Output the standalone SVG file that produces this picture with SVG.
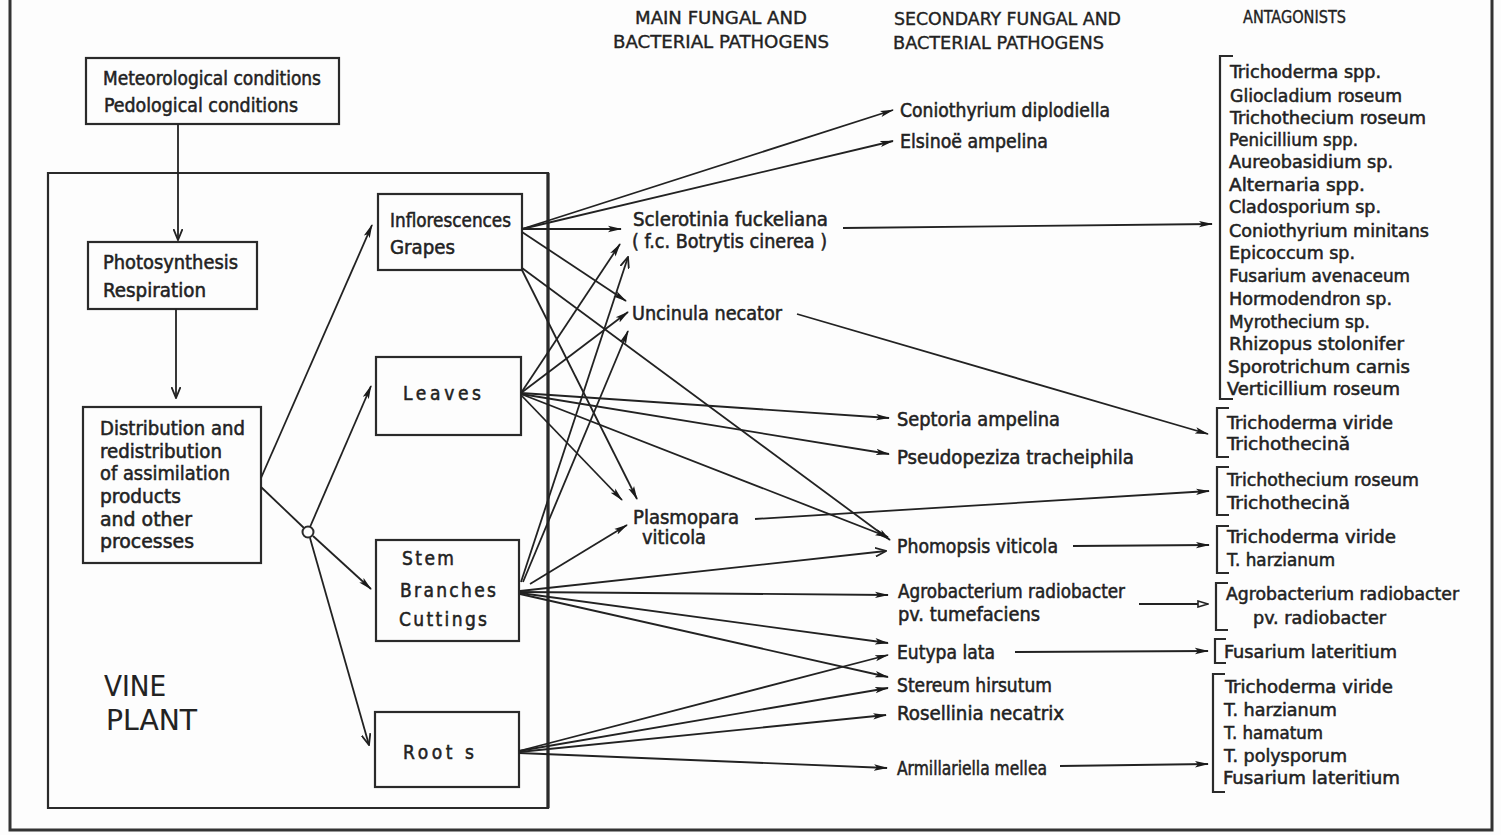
<svg xmlns="http://www.w3.org/2000/svg" width="1501" height="835" viewBox="0 0 1501 835">
  <style>
    text { font-family: "DejaVu Sans Condensed", "DejaVu Sans", sans-serif; font-size: 19px; fill: #222; stroke: #222; stroke-width: 0.5px; }
    .ant text { font-size: 18px; }
    .hdr { font-size: 17.5px; stroke-width: 0.35px; }
    .big { font-size: 28px; stroke-width: 0.1px; }
    .box { fill: none; stroke: #2a2a2a; stroke-width: 2.2; }
    .ln { fill: none; stroke: #222; stroke-width: 1.8; }
    .br { fill: none; stroke: #2a2a2a; stroke-width: 2.2; }
    .frame { fill: none; stroke: #333; stroke-width: 3; }
  </style>
  <defs>
    <marker id="ah" viewBox="0 0 14 8" refX="13" refY="4" markerWidth="14" markerHeight="8" markerUnits="userSpaceOnUse" orient="auto">
      <path d="M0,0.8 L14,4 L0,7.2 L3,4 Z" fill="#1a1a1a"/>
    </marker>
    <marker id="av" viewBox="0 0 12 10" refX="11" refY="5" markerWidth="12" markerHeight="10" markerUnits="userSpaceOnUse" orient="auto">
      <path d="M0,0.5 L11,5 L0,9.5" fill="none" stroke="#222" stroke-width="1.8"/>
    </marker>
    <marker id="ao" viewBox="0 0 12 8" refX="11" refY="4" markerWidth="12" markerHeight="8" markerUnits="userSpaceOnUse" orient="auto">
      <path d="M1,1 L11,4 L1,7 Z" fill="#fdfdfd" stroke="#222" stroke-width="1.6"/>
    </marker>
  </defs>

  <rect width="1501" height="835" fill="#fdfdfd"/>

  <!-- outer frame (open at top) -->
  <path class="frame" d="M10,0 V830 H1492 V0"/>

  <!-- vine plant enclosure -->
  <g id="vine-plant">
    <path class="box" d="M48,173 H548 V808 H48 Z"/>
    <line x1="548" y1="173" x2="548" y2="808" stroke="#2a2a2a" stroke-width="3.2"/>
    <text class="big" x="104" y="696" textLength="62" lengthAdjust="spacingAndGlyphs">VINE</text>
    <text class="big" x="106" y="730" textLength="91" lengthAdjust="spacingAndGlyphs">PLANT</text>
  </g>

  <g id="conditions">
    <rect class="box" x="86" y="58" width="253" height="66"/>
    <text x="103" y="85" textLength="218" lengthAdjust="spacingAndGlyphs">Meteorological conditions</text>
    <text x="104" y="112" textLength="194" lengthAdjust="spacingAndGlyphs">Pedological conditions</text>
  </g>

  <g id="photosynthesis">
    <rect class="box" x="88" y="242" width="169" height="67"/>
    <text x="103" y="269" textLength="135" lengthAdjust="spacingAndGlyphs">Photosynthesis</text>
    <text x="103" y="297" textLength="103" lengthAdjust="spacingAndGlyphs">Respiration</text>
  </g>

  <g id="distribution">
    <rect class="box" x="83" y="407" width="178" height="156"/>
    <text x="100" y="435" textLength="145" lengthAdjust="spacingAndGlyphs">Distribution and</text>
    <text x="100" y="458" textLength="122" lengthAdjust="spacingAndGlyphs">redistribution</text>
    <text x="100" y="480" textLength="130" lengthAdjust="spacingAndGlyphs">of assimilation</text>
    <text x="100" y="503" textLength="81" lengthAdjust="spacingAndGlyphs">products</text>
    <text x="100" y="526" textLength="92" lengthAdjust="spacingAndGlyphs">and other</text>
    <text x="100" y="548" textLength="94" lengthAdjust="spacingAndGlyphs">processes</text>
  </g>

  <g id="inflorescences">
    <rect class="box" x="378" y="194" width="144" height="76"/>
    <text x="390" y="227" textLength="121" lengthAdjust="spacingAndGlyphs">Inflorescences</text>
    <text x="390" y="254" textLength="65" lengthAdjust="spacingAndGlyphs">Grapes</text>
  </g>

  <g id="leaves">
    <rect class="box" x="376" y="357" width="145" height="78"/>
    <text x="403" y="400" textLength="78" lengthAdjust="spacing" font-size="20">Leaves</text>
  </g>

  <g id="stem">
    <rect class="box" x="376" y="540" width="143" height="101"/>
    <text x="402" y="565" textLength="52" lengthAdjust="spacing" font-size="20">Stem</text>
    <text x="400" y="597" textLength="96" lengthAdjust="spacing" font-size="20">Branches</text>
    <text x="399" y="626" textLength="88" lengthAdjust="spacing" font-size="20">Cuttings</text>
  </g>

  <g id="roots">
    <rect class="box" x="375" y="712" width="144" height="75"/>
    <text x="403" y="759" textLength="71" lengthAdjust="spacing" font-size="20">Root s</text>
  </g>

  <!-- column headings -->
  <g id="headings">
    <text class="hdr" x="635" y="24" textLength="172" lengthAdjust="spacingAndGlyphs">MAIN FUNGAL AND</text>
    <text class="hdr" x="613" y="48" textLength="216" lengthAdjust="spacingAndGlyphs">BACTERIAL PATHOGENS</text>
    <text class="hdr" x="894" y="25" textLength="227" lengthAdjust="spacingAndGlyphs">SECONDARY FUNGAL AND</text>
    <text class="hdr" x="893" y="49" textLength="211" lengthAdjust="spacingAndGlyphs">BACTERIAL PATHOGENS</text>
    <text class="hdr" x="1243" y="23" textLength="103" lengthAdjust="spacingAndGlyphs">ANTAGONISTS</text>
  </g>

  <!-- main pathogens -->
  <g id="sclerotinia">
    <text x="633" y="226" textLength="195" lengthAdjust="spacingAndGlyphs">Sclerotinia fuckeliana</text>
    <text x="632" y="248" textLength="195" lengthAdjust="spacingAndGlyphs">( f.c. Botrytis cinerea )</text>
  </g>
  <g id="uncinula">
    <text x="632" y="320" textLength="150" lengthAdjust="spacingAndGlyphs">Uncinula necator</text>
  </g>
  <g id="plasmopara">
    <text x="633" y="524" textLength="106" lengthAdjust="spacingAndGlyphs">Plasmopara</text>
    <text x="642" y="544" textLength="64" lengthAdjust="spacingAndGlyphs">viticola</text>
  </g>

  <!-- secondary pathogens -->
  <g id="coniothyrium"><text x="900" y="117" textLength="210" lengthAdjust="spacingAndGlyphs">Coniothyrium diplodiella</text></g>
  <g id="elsinoe"><text x="900" y="148" textLength="148" lengthAdjust="spacingAndGlyphs">Elsinoë ampelina</text></g>
  <g id="septoria"><text x="897" y="426" textLength="163" lengthAdjust="spacingAndGlyphs" stroke-width="0.8">Septoria ampelina</text></g>
  <g id="pseudopeziza"><text x="897" y="464" textLength="237" lengthAdjust="spacingAndGlyphs">Pseudopeziza tracheiphila</text></g>
  <g id="phomopsis"><text x="897" y="553" textLength="161" lengthAdjust="spacingAndGlyphs">Phomopsis viticola</text></g>
  <g id="agrobacterium">
    <text x="898" y="598" textLength="227" lengthAdjust="spacingAndGlyphs">Agrobacterium radiobacter</text>
    <text x="898" y="621" textLength="142" lengthAdjust="spacingAndGlyphs">pv. tumefaciens</text>
  </g>
  <g id="eutypa"><text x="897" y="659" textLength="98" lengthAdjust="spacingAndGlyphs">Eutypa lata</text></g>
  <g id="stereum"><text x="897" y="692" textLength="155" lengthAdjust="spacingAndGlyphs">Stereum hirsutum</text></g>
  <g id="rosellinia"><text x="897" y="720" textLength="167" lengthAdjust="spacingAndGlyphs">Rosellinia necatrix</text></g>
  <g id="armillariella"><text x="897" y="775" textLength="150" lengthAdjust="spacingAndGlyphs">Armillariella mellea</text></g>

  <!-- antagonist groups -->
  <g id="antagonists-botrytis" class="ant">
    <path class="br" d="M1233,56 H1220 V399 H1233"/>
    <text x="1230" y="78" textLength="151" lengthAdjust="spacingAndGlyphs">Trichoderma spp.</text>
    <text x="1230" y="102" textLength="172" lengthAdjust="spacingAndGlyphs">Gliocladium roseum</text>
    <text x="1230" y="124" textLength="196" lengthAdjust="spacingAndGlyphs">Trichothecium roseum</text>
    <text x="1229" y="146" textLength="129" lengthAdjust="spacingAndGlyphs">Penicillium spp.</text>
    <text x="1229" y="168" textLength="164" lengthAdjust="spacingAndGlyphs">Aureobasidium sp.</text>
    <text x="1229" y="191" textLength="136" lengthAdjust="spacingAndGlyphs">Alternaria spp.</text>
    <text x="1229" y="213" textLength="152" lengthAdjust="spacingAndGlyphs">Cladosporium sp.</text>
    <text x="1229" y="237" textLength="200" lengthAdjust="spacingAndGlyphs">Coniothyrium minitans</text>
    <text x="1229" y="259" textLength="126" lengthAdjust="spacingAndGlyphs">Epicoccum sp.</text>
    <text x="1229" y="282" textLength="181" lengthAdjust="spacingAndGlyphs">Fusarium avenaceum</text>
    <text x="1229" y="305" textLength="163" lengthAdjust="spacingAndGlyphs">Hormodendron sp.</text>
    <text x="1229" y="328" textLength="141" lengthAdjust="spacingAndGlyphs">Myrothecium sp.</text>
    <text x="1229" y="350" textLength="175" lengthAdjust="spacingAndGlyphs">Rhizopus stolonifer</text>
    <text x="1228" y="373" textLength="182" lengthAdjust="spacingAndGlyphs">Sporotrichum carnis</text>
    <text x="1227" y="395" textLength="173" lengthAdjust="spacingAndGlyphs">Verticillium roseum</text>
  </g>
  <g id="antagonists-uncinula" class="ant">
    <path class="br" d="M1229,408 H1217 V457 H1229"/>
    <text x="1227" y="429" textLength="166" lengthAdjust="spacingAndGlyphs">Trichoderma viride</text>
    <text x="1227" y="450" textLength="123" lengthAdjust="spacingAndGlyphs">Trichothecină</text>
  </g>
  <g id="antagonists-plasmopara" class="ant">
    <path class="br" d="M1229,467 H1217 V515 H1229"/>
    <text x="1227" y="486" textLength="192" lengthAdjust="spacingAndGlyphs">Trichothecium roseum</text>
    <text x="1227" y="509" textLength="123" lengthAdjust="spacingAndGlyphs">Trichothecină</text>
  </g>
  <g id="antagonists-phomopsis" class="ant">
    <path class="br" d="M1229,526 H1217 V573 H1229"/>
    <text x="1227" y="543" textLength="169" lengthAdjust="spacingAndGlyphs">Trichoderma viride</text>
    <text x="1227" y="566" textLength="108" lengthAdjust="spacingAndGlyphs">T. harzianum</text>
  </g>
  <g id="antagonists-agrobacterium" class="ant">
    <path class="br" d="M1228,583 H1216 V630 H1228"/>
    <text x="1226" y="600" textLength="233" lengthAdjust="spacingAndGlyphs">Agrobacterium radiobacter</text>
    <text x="1253" y="624" textLength="133" lengthAdjust="spacingAndGlyphs">pv. radiobacter</text>
  </g>
  <g id="antagonists-eutypa" class="ant">
    <path class="br" d="M1226,639 H1215 V663 H1226"/>
    <text x="1224" y="658" textLength="173" lengthAdjust="spacingAndGlyphs">Fusarium lateritium</text>
  </g>
  <g id="antagonists-armillariella" class="ant">
    <path class="br" d="M1225,674 H1213 V792 H1225"/>
    <text x="1225" y="693" textLength="168" lengthAdjust="spacingAndGlyphs">Trichoderma viride</text>
    <text x="1224" y="716" textLength="113" lengthAdjust="spacingAndGlyphs">T. harzianum</text>
    <text x="1224" y="739" textLength="99" lengthAdjust="spacingAndGlyphs">T. hamatum</text>
    <text x="1224" y="762" textLength="123" lengthAdjust="spacingAndGlyphs">T. polysporum</text>
    <text x="1223" y="784" textLength="177" lengthAdjust="spacingAndGlyphs">Fusarium lateritium</text>
  </g>

  <!-- connectors -->
  <g id="connectors">
    <!-- physiology chain -->
    <line class="ln" x1="178" y1="124" x2="178" y2="240" marker-end="url(#av)"/>
    <line class="ln" x1="176" y1="309" x2="176" y2="398" marker-end="url(#av)"/>
    <line class="ln" x1="261" y1="487" x2="304" y2="528"/>
    <circle cx="308" cy="532" r="5.5" fill="#fdfdfd" stroke="#2a2a2a" stroke-width="2"/>
    <line class="ln" x1="261" y1="478" x2="372" y2="225" marker-end="url(#ah)"/>
    <line class="ln" x1="310" y1="527" x2="371" y2="386" marker-end="url(#ah)"/>
    <line class="ln" x1="313" y1="536" x2="371" y2="589" marker-end="url(#ah)"/>
    <line class="ln" x1="310" y1="538" x2="369" y2="745" marker-end="url(#av)"/>

    <!-- inflorescences / grapes -->
    <line class="ln" x1="522" y1="229" x2="893" y2="110" marker-end="url(#ah)"/>
    <line class="ln" x1="522" y1="229" x2="893" y2="141" marker-end="url(#ah)"/>
    <line class="ln" x1="522" y1="229" x2="621" y2="229" marker-end="url(#ah)"/>
    <line class="ln" x1="522" y1="232" x2="626" y2="301" marker-end="url(#ah)"/>
    <line class="ln" x1="522" y1="268" x2="890" y2="540" marker-end="url(#ah)"/>
    <line class="ln" x1="522" y1="270" x2="637" y2="499" marker-end="url(#ah)"/>

    <!-- leaves -->
    <line class="ln" x1="521" y1="393" x2="620" y2="244" marker-end="url(#ah)"/>
    <line class="ln" x1="521" y1="393" x2="628" y2="312" marker-end="url(#ah)"/>
    <line class="ln" x1="521" y1="393" x2="889" y2="418" marker-end="url(#ah)"/>
    <line class="ln" x1="521" y1="394" x2="889" y2="454" marker-end="url(#ah)"/>
    <line class="ln" x1="521" y1="394" x2="888" y2="537" marker-end="url(#ah)"/>
    <line class="ln" x1="521" y1="395" x2="622" y2="500" marker-end="url(#ah)"/>

    <!-- stem / branches / cuttings -->
    <line class="ln" x1="521" y1="582" x2="628" y2="257" marker-end="url(#av)"/>
    <line class="ln" x1="523" y1="582" x2="628" y2="331" marker-end="url(#ah)"/>
    <line class="ln" x1="530" y1="584" x2="627" y2="525" marker-end="url(#ah)"/>
    <line class="ln" x1="520" y1="591" x2="886" y2="551" marker-end="url(#av)"/>
    <line class="ln" x1="520" y1="592" x2="888" y2="595" marker-end="url(#ah)"/>
    <line class="ln" x1="520" y1="593" x2="888" y2="643" marker-end="url(#ah)"/>
    <line class="ln" x1="520" y1="594" x2="888" y2="677" marker-end="url(#ah)"/>

    <!-- roots -->
    <line class="ln" x1="519" y1="751" x2="888" y2="655" marker-end="url(#ah)"/>
    <line class="ln" x1="519" y1="751" x2="888" y2="688" marker-end="url(#ah)"/>
    <line class="ln" x1="519" y1="752" x2="886" y2="715" marker-end="url(#ah)"/>
    <line class="ln" x1="519" y1="753" x2="887" y2="768" marker-end="url(#ah)" stroke-width="2.6"/>

    <!-- pathogens to antagonists -->
    <line class="ln" x1="843" y1="228" x2="1212" y2="224" marker-end="url(#ah)"/>
    <line class="ln" x1="797" y1="314" x2="1208" y2="434" marker-end="url(#ah)"/>
    <line class="ln" x1="755" y1="519" x2="1209" y2="491" marker-end="url(#ah)"/>
    <line class="ln" x1="1073" y1="546" x2="1209" y2="545" marker-end="url(#ah)"/>
    <line class="ln" x1="1139" y1="604" x2="1208" y2="604" marker-end="url(#ao)"/>
    <line class="ln" x1="1015" y1="652" x2="1208" y2="651" marker-end="url(#ah)"/>
    <line class="ln" x1="1060" y1="766" x2="1208" y2="764" marker-end="url(#ah)"/>
  </g>
</svg>
